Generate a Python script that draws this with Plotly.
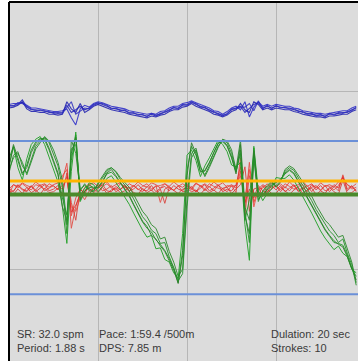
import plotly.graph_objects as go

# Sample positions along the stroke window (one gridline = 100 units)
sample_x = [i * 5 for i in range(79)]

# Overlaid strokes for each trace
blue_strokes = [
    [83, 84, 85, 90, 82, 79, 79, 78, 78, 76,
     76, 75, 76, 84, 76, 79, 83, 79, 81, 85,
     87, 85, 83, 81, 80, 79, 78, 76, 75, 74,
     73, 72, 74, 72, 75, 76, 79, 81, 81, 84,
     85, 88, 85, 83, 81, 79, 76, 75, 72, 75,
     79, 81, 83, 76, 81, 85, 87, 81, 83, 81,
     83, 82, 81, 81, 79, 78, 76, 75, 74, 73,
     73, 72, 74, 74, 75, 76, 76, 79, 81],
    [85, 86, 86, 87, 84, 81, 81, 80, 79, 78,
     77, 77, 78, 80, 70, 62, 80, 84, 82, 86,
     88, 87, 85, 83, 82, 81, 80, 78, 77, 76,
     75, 74, 75, 74, 77, 78, 81, 83, 83, 86,
     87, 89, 87, 85, 83, 81, 78, 77, 74, 77,
     81, 83, 79, 88, 71, 82, 88, 83, 85, 83,
     85, 84, 83, 83, 81, 80, 78, 77, 76, 75,
     75, 74, 75, 76, 77, 78, 78, 81, 83],
    [81, 82, 84, 88, 80, 77, 77, 76, 76, 74,
     74, 73, 74, 88, 80, 76, 86, 76, 79, 83,
     85, 83, 81, 79, 78, 77, 76, 74, 73, 72,
     71, 70, 72, 71, 73, 74, 77, 79, 79, 82,
     83, 86, 83, 81, 79, 77, 74, 73, 71, 73,
     77, 79, 86, 79, 76, 88, 85, 79, 81, 79,
     81, 80, 79, 79, 77, 76, 74, 73, 72, 71,
     71, 70, 72, 72, 73, 74, 74, 77, 79],
    [84, 83, 87, 86, 83, 80, 78, 79, 77, 77,
     75, 76, 75, 82, 88, 74, 78, 81, 80, 84,
     86, 86, 84, 80, 81, 78, 79, 75, 76, 73,
     74, 71, 75, 73, 74, 77, 78, 82, 80, 85,
     84, 87, 86, 82, 82, 78, 77, 74, 73, 74,
     80, 80, 82, 82, 86, 78, 89, 80, 84, 80,
     84, 81, 82, 80, 80, 77, 77, 74, 75, 72,
     74, 71, 75, 73, 76, 75, 77, 78, 82],
]

red_strokes = [
    [-10, -5, -7, -3, -6, -8, -2, -6, -4, -8,
     -5, -3, 0, 19, -40, -20, -10, -16, -5, -3,
     -7, -4, -2, -8, -5, -3, -9, -4, -7, -2,
     -6, -8, -3, -5, -9, -4, -7, -2, -6, -8,
     -4, -9, -3, -7, -4, -8, -2, -6, -3, -8,
     -5, -9, 10, -30, 20, -25, -10, -5, -8, -3,
     -7, -4, -9, -2, -7, -5, -1, -7, -4, -9,
     -3, -7, -5, -8, -2, 2, -5, -8, -4],
    [-14, -12, -6, -11, -13, -7, -11, -5, -12, -9,
     -6, -11, 5, 12, -54, -30, -14, -22, -12, -10,
     -6, -12, -10, -6, -13, -10, -7, -13, -6, -10,
     -13, -7, -12, -6, -25, -10, -7, -12, -6, -13,
     -12, -7, -13, -6, -12, -7, -12, -6, -10, -13,
     -6, -14, 25, -39, 5, -15, -18, -6, -13, -10,
     -6, -13, -7, -12, -6, -13, -10, -6, -13, -7,
     -12, -6, -13, -7, -12, 6, -10, -6, -13],
    [-12, -16, -10, -15, -8, -14, -11, -16, -9, -14,
     -13, -9, -16, 8, -25, -45, -10, -15, -16, -9,
     -14, -8, -15, -11, -9, -14, -12, -8, -14, -16,
     -9, -14, -11, -16, -10, -26, -8, -12, -15, -10,
     -9, -13, -11, -16, -10, -14, -11, -15, -9, -8,
     -15, -10, -5, 15, -35, -10, -8, -18, -10, -15,
     -15, -8, -12, -16, -11, -8, -15, -11, -9, -16,
     -12, -15, -8, -13, -16, 0, -15, -14, -10],
    [-16, -5, -9, -4, -8, -11, -5, -7, -10, -4,
     -7, -10, -6, 0, -30, -35, -20, -8, -4, -10,
     -5, -7, -4, -9, -11, -4, -7, -9, -6, -11,
     -7, -4, -10, -7, -6, -4, -9, -11, -7, -4,
     -7, -11, -4, -6, -10, -4, -7, -9, -11, -6,
     -7, -6, 5, -20, 12, -30, -10, -9, -4, -9,
     -6, -11, -4, -7, -10, -7, -5, -10, -8, -6,
     -11, -6, -7, -11, -6, 3, -5, -10, -8],
    [-9, -13, -5, -10, -12, -6, -13, -9, -5, -12,
     -10, -6, -10, 4, -36, -28, -16, -12, -9, -14,
     -10, -5, -12, -13, -7, -11, -5, -12, -10, -5,
     -11, -12, -6, -13, -9, -7, -12, -6, -10, -12,
     -6, -10, -13, -9, -5, -12, -9, -5, -13, -10,
     -12, -5, 15, -25, -10, -20, -6, -12, -14, -6,
     -11, -6, -13, -9, -5, -12, -8, -13, -5, -11,
     -6, -12, -10, -5, -9, 4, -12, -7, -12],
]

green_strokes = [
    [17, 37, 22, 6, 17, 34, 43, 47, 45, 34,
     20, 6, -20, -39, 22, 51, -17, -9, -6, -8,
     -9, -2, 7, 9, 4, -3, -11, -18, -28, -38,
     -47, -54, -58, -67, -72, -79, -88, -99, -115, -79,
     11, 38, 28, 9, 11, 20, 31, 42, 43, 38,
     25, 9, 34, -45, -22, 36, -17, -18, -11, -6,
     -2, 0, 7, 11, 7, -2, -11, -20, -28, -38,
     -47, -56, -63, -70, -71, -73, -84, -99, -108],
    [8, 28, 32, 16, 8, 24, 38, 44, 48, 42,
     30, 16, -8, -60, 45, 30, -12, -4, -12, -13,
     -3, 4, 12, 14, 10, 3, -3, -8, -16, -26,
     -35, -41, -50, -54, -66, -64, -80, -92, -108, -100,
     -20, 30, 36, 16, 4, 14, 26, 37, 46, 44,
     34, 12, 45, -30, -45, 30, -24, -12, -6, -1,
     -8, -2, 12, 16, 13, 6, -2, -10, -18, -28,
     -36, -45, -50, -57, -64, -62, -78, -92, -115],
    [24, 38, 14, 0, 24, 40, 46, 49, 40, 26,
     11, -2, -30, -71, 10, 54, -24, -14, -3, -5,
     -13, -7, 2, 5, -2, -10, -19, -27, -37, -47,
     -56, -64, -62, -77, -76, -89, -92, -104, -110, -60,
     28, 34, 22, 4, 16, 25, 36, 45, 40, 32,
     17, 15, 20, -50, -90, 38, -12, -23, -15, -10,
     3, 2, 2, 6, 0, -9, -19, -28, -37, -47,
     -57, -65, -72, -78, -74, -82, -86, -100, -104],
    [14, 40, 25, 8, 14, 31, 41, 46, 47, 36,
     22, 8, -30, -45, 30, 48, -22, -12, -8, -9,
     -8, -1, 8, 12, 5, -2, -10, -17, -27, -37,
     -46, -52, -62, -66, -74, -80, -90, -101, -116, -85,
     5, 42, 30, 10, 10, 19, 31, 41, 45, 39,
     26, 7, 40, -40, -60, 33, -18, -17, -10, -5,
     -3, 1, 8, 12, 8, -1, -10, -19, -27, -37,
     -46, -55, -62, -68, -72, -75, -86, -100, -112],
    [12, 25, 30, 20, 6, 20, 35, 42, 49, 44,
     34, 20, 0, -50, 35, 40, -10, -6, -10, -12,
     -5, 2, 10, 14, 9, 1, -6, -12, -21, -31,
     -41, -47, -56, -60, -71, -70, -86, -98, -113, -105,
     -30, 25, 34, 14, 6, 16, 28, 38, 45, 42,
     30, 10, 30, -35, -70, 25, -22, -13, -8, -3,
     -6, -1, 10, 14, 11, 3, -6, -15, -23, -33,
     -41, -50, -57, -62, -70, -66, -82, -95, -118],
]

# Horizontal reference levels
ref_blue_levels = [44, -128]
ref_orange_level = -1
ref_green_level = -16

# Summary read-out
stats_left = ["SR: 32.0 spm", "Period: 1.88 s"]
stats_mid = ["Pace: 1:59.4 /500m", "DPS: 7.85 m"]
stats_right = ["Dulation: 20 sec", "Strokes: 10"]

fig = go.Figure()

blue_cols = ["#2020b8", "#2a2ac8", "#1c1cae", "#3030c0"]
for ys, c in zip(blue_strokes, blue_cols):
    fig.add_trace(go.Scatter(x=sample_x, y=ys, mode="lines",
                             line=dict(color=c, width=1.1),
                             opacity=0.85, hoverinfo="skip"))
red_cols = ["#e8342c", "#e23a30", "#d83028", "#ee4034", "#e02c2a"]
for ys, c in zip(red_strokes, red_cols):
    fig.add_trace(go.Scatter(x=sample_x, y=ys, mode="lines",
                             line=dict(color=c, width=1.0),
                             opacity=0.8, hoverinfo="skip"))
green_cols = ["#1f9a25", "#2b8a2b", "#1c9f22", "#2f7f2c", "#24922a"]
for ys, c in zip(green_strokes, green_cols):
    fig.add_trace(go.Scatter(x=sample_x, y=ys, mode="lines",
                             line=dict(color=c, width=1.0),
                             opacity=0.9, hoverinfo="skip"))

shapes = []
for lv in ref_blue_levels:
    shapes.append(dict(type="line", xref="paper", yref="y", x0=0, x1=1,
                       y0=lv, y1=lv, line=dict(color="#6b90d8", width=2),
                       layer="above"))
shapes.append(dict(type="line", xref="paper", yref="y", x0=0, x1=1,
                   y0=ref_orange_level, y1=ref_orange_level,
                   line=dict(color="#ffb400", width=3), layer="above"))
shapes.append(dict(type="line", xref="paper", yref="y", x0=0, x1=1,
                   y0=ref_green_level, y1=ref_green_level,
                   line=dict(color="#4b8a2c", width=4), layer="above"))
# Frame: left and top edges
shapes.append(dict(type="line", xref="paper", yref="paper", x0=0, x1=0,
                   y0=0, y1=1, line=dict(color="#000000", width=2)))
shapes.append(dict(type="line", xref="paper", yref="paper", x0=0, x1=1,
                   y0=1, y1=1, line=dict(color="#000000", width=2)))

annotations = []
for col_x, texts in [(0.017, stats_left), (0.251, stats_mid), (0.745, stats_right)]:
    for row_y, t in zip([0.075, 0.036], texts):
        annotations.append(dict(text=t, xref="paper", yref="paper",
                                x=col_x, y=row_y, xanchor="left",
                                yanchor="middle", showarrow=False,
                                font=dict(family="Liberation Sans, Arial",
                                          size=11, color="#3a3a3a")))

fig.update_layout(
    width=358, height=361,
    margin=dict(l=9, r=0, t=2, b=0),
    paper_bgcolor="#ffffff",
    plot_bgcolor="#dcdcdc",
    showlegend=False,
    shapes=shapes,
    annotations=annotations,
)
fig.update_xaxes(range=[0, 392], tickvals=[100, 200, 300],
                 showticklabels=False, ticks="", showgrid=True,
                 gridcolor="#b6b6b6", gridwidth=1, zeroline=False)
fig.update_yaxes(range=[-203, 200], tickvals=[-100, 0, 100],
                 showticklabels=False, ticks="", showgrid=True,
                 gridcolor="#b6b6b6", gridwidth=1, zeroline=False)

fig.write_html("out.html")
